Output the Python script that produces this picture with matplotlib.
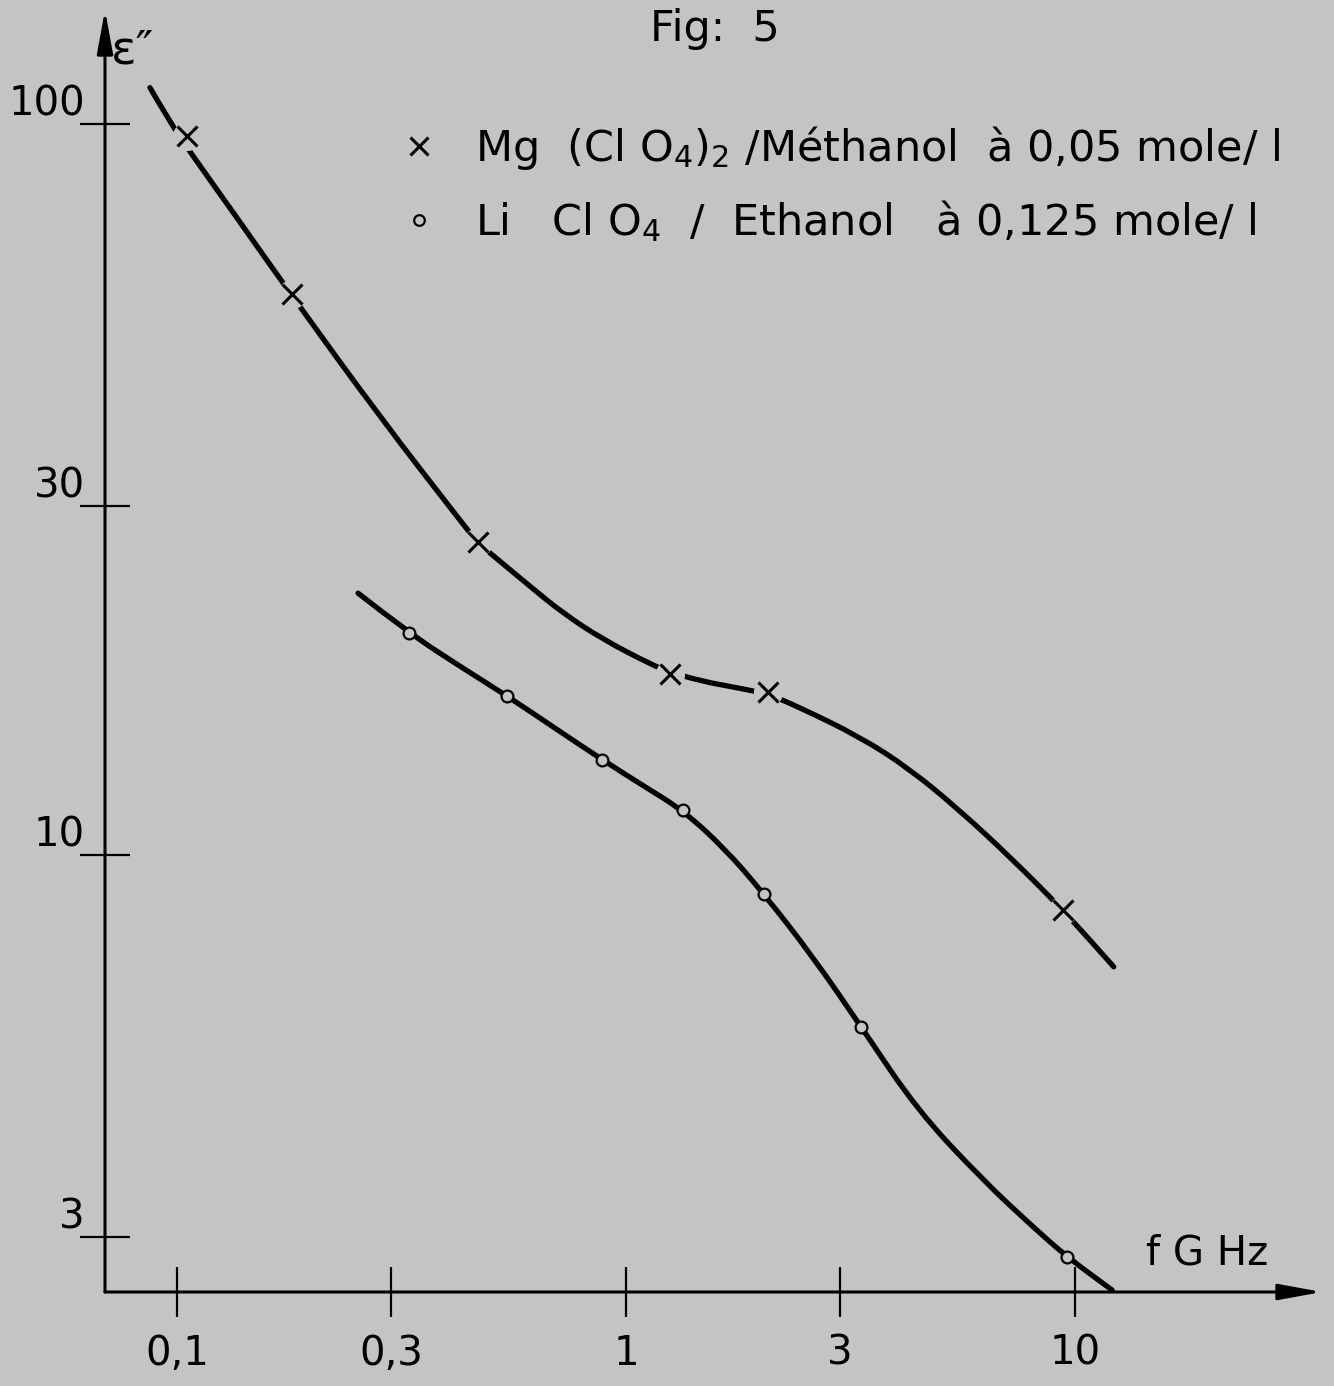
import matplotlib
matplotlib.use('Agg')
import matplotlib.pyplot as plt
from matplotlib.path import Path
from matplotlib.patches import PathPatch
from matplotlib.transforms import ScaledTranslation

# Fig 5 : epsilon'' versus frequency (GHz), log-log.

# Mg(ClO4)2 / methanol, 0.05 mole/l : measured points (x markers)
mg_f = [0.105, 0.180, 0.468, 1.25, 2.07, 9.40]
mg_e = [96.3, 58.4, 26.8, 17.7, 16.7, 8.41]
# hand drawn curve through them
mg_curve_f = [0.087, 0.096, 0.106, 0.138, 0.180, 0.283, 0.438,
              0.468, 0.524, 0.611, 0.724, 0.889, 1.14, 1.25, 1.46,
              1.79, 2.07, 2.44, 3.32, 4.29, 5.54, 7.16, 9.40, 12.2]
mg_curve_e = [112, 101, 92.1, 73.4, 58.2, 39.7, 28.1,
              26.7, 25.2, 23.3, 21.4, 19.7, 18.2, 17.8, 17.3,
              16.9, 16.6, 15.9, 14.5, 13.1, 11.5, 9.94, 8.41, 7.03]

# LiClO4 / ethanol, 0.125 mole/l : measured points (o markers)
li_f = [0.329, 0.543, 0.884, 1.34, 2.03, 3.34, 9.60]
li_e = [20.1, 16.5, 13.5, 11.5, 8.84, 5.82, 2.82]
li_curve_f = [0.253, 0.329, 0.427, 0.543, 0.695, 0.884, 1.10, 1.34, 1.66,
              2.03, 2.61, 3.34, 4.45, 6.24, 8.06, 9.60, 12.1]
li_curve_e = [22.8, 20.1, 18.1, 16.5, 14.9, 13.5, 12.4, 11.5, 10.2,
              8.84, 7.25, 5.82, 4.48, 3.59, 3.10, 2.82, 2.54]

x_ticks = [0.1, 0.3, 1, 3, 10]
x_tick_labels = ['0,1', '0,3', '1', '3', '10']
y_ticks = [3, 10, 30, 100]
y_tick_labels = ['3', '10', '30', '100']

label_mg = r'Mg  (Cl O$_4$)$_2$ /Méthanol  à 0,05 mole/ l'
label_li = r'Li   Cl O$_4$  /  Ethanol   à 0,125 mole/ l'

BG = '#c4c4c4'
FS = 29

plt.rcParams['font.family'] = ['DejaVu Sans']
plt.rcParams['mathtext.fontset'] = 'dejavusans'


def smooth_path(xs, ys):
    # quadratic bezier through the midpoints (geometric, axes are log)
    pts = list(zip(xs, ys))
    verts = [pts[0]]
    codes = [Path.MOVETO]
    for i in range(1, len(pts) - 1):
        mid = ((pts[i][0] * pts[i + 1][0]) ** 0.5, (pts[i][1] * pts[i + 1][1]) ** 0.5)
        verts += [pts[i], mid]
        codes += [Path.CURVE3, Path.CURVE3]
    verts.append(pts[-1])
    codes.append(Path.LINETO)
    return Path(verts, codes)


fig = plt.figure(figsize=(13.34, 13.86), dpi=100, facecolor=BG)
ax = fig.add_axes([105 / 1334, 1 - 1292 / 1386, (1322 - 105) / 1334, (1292 - 10) / 1386])
ax.set_facecolor(BG)
ax.set_xscale('log')
ax.set_yscale('log')

# curves
for cf, ce in [(mg_curve_f, mg_curve_e), (li_curve_f, li_curve_e)]:
    ax.add_patch(PathPatch(smooth_path(cf, ce), facecolor='none', edgecolor='k',
                           lw=3.8, capstyle='round', zorder=2, clip_on=False))

# gaps in the upper curve around the crosses
ax.plot(mg_f, mg_e, 'o', ms=21, mfc=BG, mec='none', zorder=3)
h_mg, = ax.plot(mg_f, mg_e, 'x', ms=15, mew=2.2, color='k', zorder=4, label=label_mg)
h_li, = ax.plot(li_f, li_e, 'o', ms=8.5, mew=1.6, mfc=BG, mec='k', zorder=4, label=label_li)

ax.set_xlim(0.0691, 35.5)
ax.set_ylim(2.525, 143)

# axes drawn as arrows
for sp in ax.spines.values():
    sp.set_visible(False)
arrow = dict(arrowstyle='-|>,head_length=1.2,head_width=0.22', lw=2.2, color='k',
             mutation_scale=22, shrinkA=0, shrinkB=0)
ax.annotate('', xy=(1, 0), xytext=(0, 0), xycoords='axes fraction', arrowprops=arrow)
ax.annotate('', xy=(0, 1), xytext=(0, 0), xycoords='axes fraction', arrowprops=arrow)

ax.minorticks_off()
ax.set_xticks(x_ticks)
ax.set_xticklabels(x_tick_labels)
ax.set_yticks(y_ticks)
ax.set_yticklabels(y_tick_labels)
ax.tick_params(axis='both', which='major', direction='inout', length=36, width=1.6,
               labelsize=FS, color='k')
ax.tick_params(axis='x', pad=12)
ax.tick_params(axis='y', pad=0)
ax.tick_params(which='minor', length=0)

# y labels sit on top of their tick
shift = ScaledTranslation(0.05, 0.24, fig.dpi_scale_trans)
for lab in ax.get_yticklabels():
    lab.set_transform(lab.get_transform() + shift)

ax.set_xlabel('f G Hz', fontsize=FS)
ax.xaxis.set_label_coords(0.906, 0.03)
ax.xaxis.label.set_verticalalignment('center')
ax.set_ylabel('ε″', fontsize=FS + 5, rotation=0)
ax.yaxis.set_label_coords(0.023, 0.968)
ax.yaxis.label.set_verticalalignment('center')
ax.yaxis.label.set_horizontalalignment('center')

fig.text(715 / 1334, 1 - 29 / 1386, 'Fig:  5', fontsize=FS + 2, ha='center', va='center')

ax.legend(handles=[h_mg, h_li], loc='upper left', bbox_to_anchor=(402 / 1334, 1 - 124 / 1386),
          bbox_transform=fig.transFigure, frameon=False, fontsize=FS + 2, handlelength=0.8,
          handletextpad=0.9, labelspacing=0.6, borderpad=0, borderaxespad=0, markerscale=0.9)

fig.savefig('out.png', dpi=100, facecolor=BG)
